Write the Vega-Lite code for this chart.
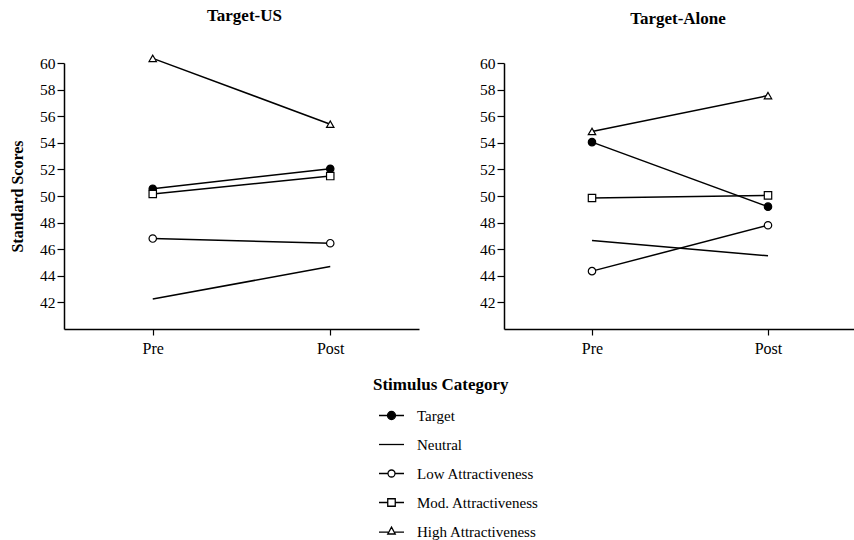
{
  "$schema": "https://vega.github.io/schema/vega-lite/v6.json",
  "padding": {"left": 9, "top": 6, "right": 0, "bottom": 0},
  "background": "white",
  "config": {
    "font": "Liberation Serif",
    "view": {"stroke": null},
    "axis": {"grid": false, "domainColor": "black", "tickColor": "black", "labelColor": "black", "titleColor": "black", "labelFont": "Liberation Serif", "titleFont": "Liberation Serif", "domainWidth": 1.5, "tickWidth": 1.2},
    "title": {"font": "Liberation Serif", "fontSize": 17, "fontWeight": "bold", "color": "black"}
  },
  "data": {"values": [
    {"Panel": "Target-US", "Category": "Target", "Time": "Pre", "Score": 50.55},
    {"Panel": "Target-US", "Category": "Target", "Time": "Post", "Score": 52.05},
    {"Panel": "Target-US", "Category": "Neutral", "Time": "Pre", "Score": 42.25},
    {"Panel": "Target-US", "Category": "Neutral", "Time": "Post", "Score": 44.7},
    {"Panel": "Target-US", "Category": "Low Attractiveness", "Time": "Pre", "Score": 46.8},
    {"Panel": "Target-US", "Category": "Low Attractiveness", "Time": "Post", "Score": 46.45},
    {"Panel": "Target-US", "Category": "Mod. Attractiveness", "Time": "Pre", "Score": 50.15},
    {"Panel": "Target-US", "Category": "Mod. Attractiveness", "Time": "Post", "Score": 51.5},
    {"Panel": "Target-US", "Category": "High Attractiveness", "Time": "Pre", "Score": 60.35},
    {"Panel": "Target-US", "Category": "High Attractiveness", "Time": "Post", "Score": 55.4},
    {"Panel": "Target-Alone", "Category": "Target", "Time": "Pre", "Score": 54.05},
    {"Panel": "Target-Alone", "Category": "Target", "Time": "Post", "Score": 49.2},
    {"Panel": "Target-Alone", "Category": "Neutral", "Time": "Pre", "Score": 46.65},
    {"Panel": "Target-Alone", "Category": "Neutral", "Time": "Post", "Score": 45.5},
    {"Panel": "Target-Alone", "Category": "Low Attractiveness", "Time": "Pre", "Score": 44.35},
    {"Panel": "Target-Alone", "Category": "Low Attractiveness", "Time": "Post", "Score": 47.8},
    {"Panel": "Target-Alone", "Category": "Mod. Attractiveness", "Time": "Pre", "Score": 49.85},
    {"Panel": "Target-Alone", "Category": "Mod. Attractiveness", "Time": "Post", "Score": 50.05},
    {"Panel": "Target-Alone", "Category": "High Attractiveness", "Time": "Pre", "Score": 54.85},
    {"Panel": "Target-Alone", "Category": "High Attractiveness", "Time": "Post", "Score": 57.55}
  ]},
  "bounds": "flush",
  "spacing": 85,
  "hconcat": [
    {
      "width": 355,
      "height": 266,
      "title": {"text": "Target-US", "dx": 3, "offset": 28},
      "transform": [{"filter": "datum.Panel === 'Target-US'"}],
      "encoding": {
        "x": {"field": "Time", "type": "ordinal", "sort": ["Pre", "Post"], "scale": {"type": "point", "padding": 0.5},
              "axis": {"title": null, "labelAngle": 0, "labelFontSize": 16, "tickSize": 6, "labelPadding": 5}},
        "y": {"field": "Score", "type": "quantitative", "scale": {"domain": [40, 60], "nice": false, "zero": false},
              "axis": {"values": [42, 44, 46, 48, 50, 52, 54, 56, 58, 60], "title": "Standard Scores", "titleFontSize": 16, "titleFontWeight": "bold", "titlePadding": 14, "labelFontSize": 15.5, "tickSize": 7, "labelPadding": 2}}
      },
      "layer": [
        {"mark": {"type": "line", "color": "black", "strokeWidth": 1.5}, "encoding": {"detail": {"field": "Category"}}},
        {"transform": [{"filter": "datum.Category !== 'Neutral'"}],
         "mark": {"type": "point", "stroke": "black", "strokeWidth": 1.2, "size": 55, "opacity": 1},
         "encoding": {
           "shape": {"field": "Category", "scale": {"domain": ["Target", "Low Attractiveness", "Mod. Attractiveness", "High Attractiveness"], "range": ["circle", "circle", "square", "triangle-up"]}, "legend": null},
           "fill": {"field": "Category", "scale": {"domain": ["Target", "Low Attractiveness", "Mod. Attractiveness", "High Attractiveness"], "range": ["black", "white", "white", "white"]}, "legend": null}
         }},
        {"mark": {"type": "point", "opacity": 0, "stroke": "black"},
         "encoding": {
           "shape": {"field": "Category", "title": "Stimulus Category",
             "scale": {"domain": ["Target", "Neutral", "Low Attractiveness", "Mod. Attractiveness", "High Attractiveness"],
                       "range": ["M-1,0H-0.32M0.32,0H1M-0.32,0A0.32,0.32,0,1,0,0.32,0A0.32,0.32,0,1,0,-0.32,0Z", "M-1,0H1", "M-1,0H-0.28M0.28,0H1M-0.28,0A0.28,0.28,0,1,0,0.28,0A0.28,0.28,0,1,0,-0.28,0Z", "M-1,0H-0.3M0.3,0H1M-0.3,-0.3H0.3V0.3H-0.3Z", "M-1,0.05H-0.27M0.27,0.05H1M0,-0.35L0.3,0.2H-0.3Z"]},
             "legend": {"orient": "none", "legendX": 309, "legendY": 314, "direction": "vertical", "symbolSize": 625, "symbolStrokeColor": "black", "symbolStrokeWidth": 1.3, "symbolOpacity": 1, "labelFontSize": 15, "labelFont": "Liberation Serif", "labelColor": "black", "titleFontSize": 17, "titleFont": "Liberation Serif", "titleFontWeight": "bold", "titleColor": "black", "titlePadding": 8, "rowPadding": 7, "labelOffset": 12, "symbolOffset": 5,
               "encode": {"symbols": {"update": {"stroke": {"value": "black"}, "strokeWidth": {"value": 1.3}, "opacity": {"value": 1}, "strokeOpacity": {"value": 1}, "size": {"value": 625}}}}}},
           "fill": {"field": "Category", "title": "Stimulus Category",
             "scale": {"domain": ["Target", "Neutral", "Low Attractiveness", "Mod. Attractiveness", "High Attractiveness"], "range": ["black", "white", "white", "white", "white"]},
             "legend": {"orient": "none", "legendX": 309, "legendY": 314, "direction": "vertical", "symbolSize": 625, "symbolStrokeColor": "black", "symbolStrokeWidth": 1.3, "symbolOpacity": 1, "labelFontSize": 15, "labelFont": "Liberation Serif", "labelColor": "black", "titleFontSize": 17, "titleFont": "Liberation Serif", "titleFontWeight": "bold", "titleColor": "black", "titlePadding": 8, "rowPadding": 7, "labelOffset": 12, "symbolOffset": 5,
               "encode": {"symbols": {"update": {"stroke": {"value": "black"}, "strokeWidth": {"value": 1.3}, "opacity": {"value": 1}, "strokeOpacity": {"value": 1}, "size": {"value": 625}}}}}}
         }}
      ],
      "resolve": {"scale": {"shape": "independent", "fill": "independent"}}
    },
    {
      "width": 352,
      "height": 266,
      "title": {"text": "Target-Alone", "dx": -2, "offset": 28},
      "transform": [{"filter": "datum.Panel === 'Target-Alone'"}],
      "encoding": {
        "x": {"field": "Time", "type": "ordinal", "sort": ["Pre", "Post"], "scale": {"type": "point", "padding": 0.5},
              "axis": {"title": null, "labelAngle": 0, "labelFontSize": 16, "tickSize": 6, "labelPadding": 5}},
        "y": {"field": "Score", "type": "quantitative", "scale": {"domain": [40, 60], "nice": false, "zero": false},
              "axis": {"values": [42, 44, 46, 48, 50, 52, 54, 56, 58, 60], "title": null, "labelFontSize": 15.5, "tickSize": 7, "labelPadding": 2}}
      },
      "layer": [
        {"mark": {"type": "line", "color": "black", "strokeWidth": 1.5}, "encoding": {"detail": {"field": "Category"}}},
        {"transform": [{"filter": "datum.Category !== 'Neutral'"}],
         "mark": {"type": "point", "stroke": "black", "strokeWidth": 1.2, "size": 55, "opacity": 1},
         "encoding": {
           "shape": {"field": "Category", "scale": {"domain": ["Target", "Low Attractiveness", "Mod. Attractiveness", "High Attractiveness"], "range": ["circle", "circle", "square", "triangle-up"]}, "legend": null},
           "fill": {"field": "Category", "scale": {"domain": ["Target", "Low Attractiveness", "Mod. Attractiveness", "High Attractiveness"], "range": ["black", "white", "white", "white"]}, "legend": null}
         }}
      ]
    }
  ]
}
